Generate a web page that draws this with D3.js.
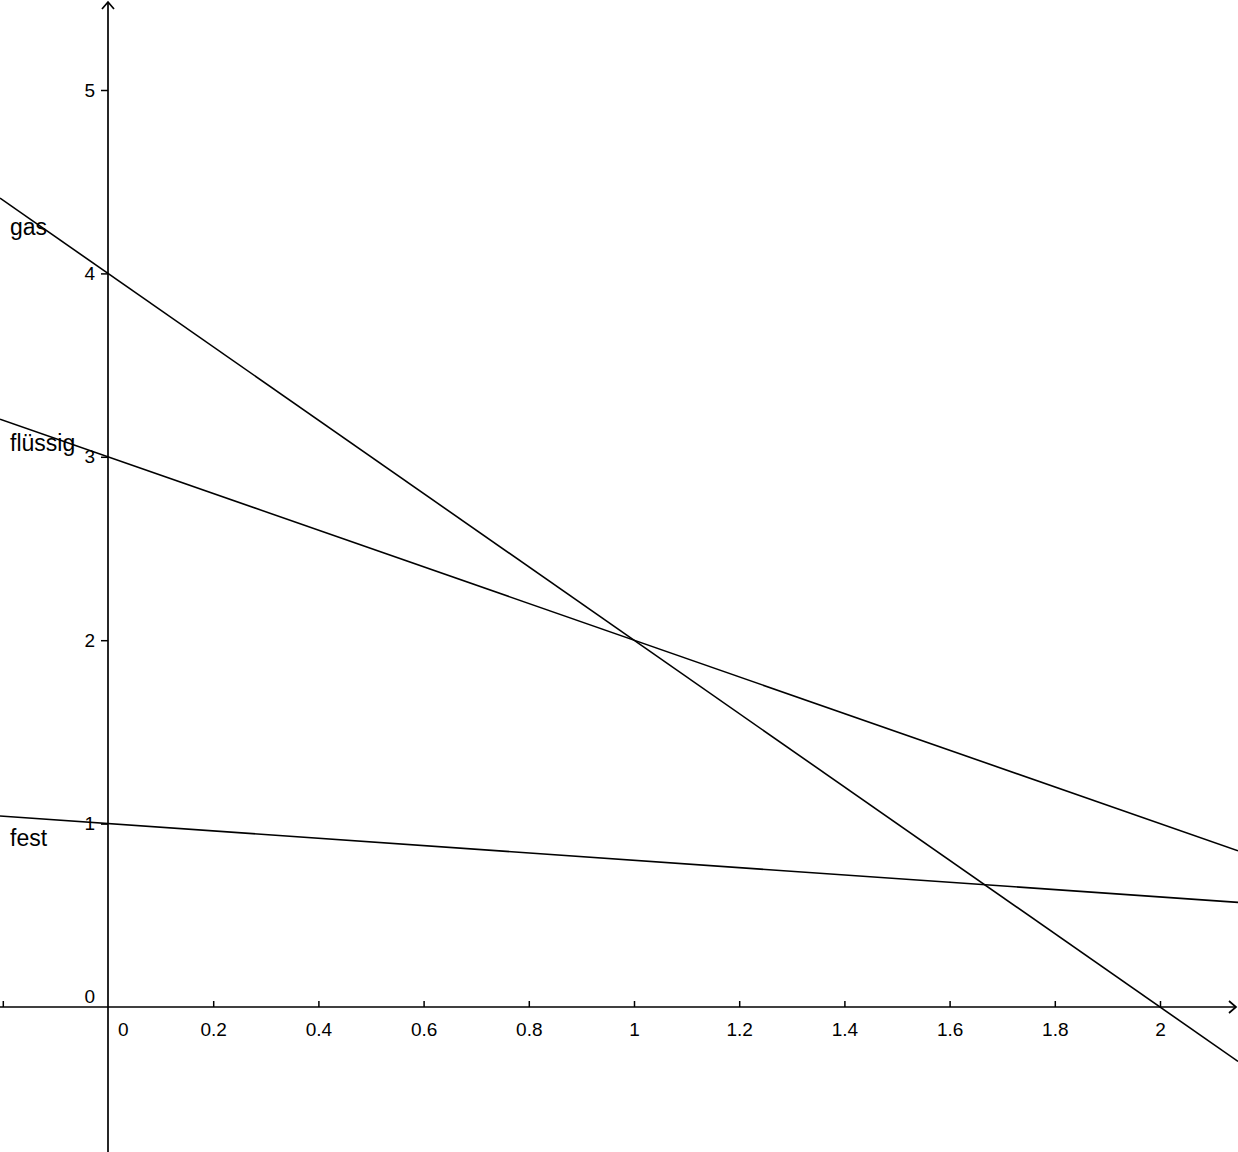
<!DOCTYPE html>
<html>
<head>
<meta charset="utf-8">
<script src="https://cdn.jsdelivr.net/npm/d3@7"></script>
<style>
	body { margin: 0; background: #fff; }
	svg { display: block; }
</style>
</head>
<body>
<script>
// phase lines: y = intercept + slope * x
var lineNames = ['gas', 'flüssig', 'fest'];
var lineIntercepts = [4, 3, 1];
var lineSlopes = [-2, -1, -0.2];
// label anchors (data units, bottom-left of text)
var labelYValues = [4.21, 3.03, 0.88];

var xTickValues = [-0.2, 0.2, 0.4, 0.6, 0.8, 1, 1.2, 1.4, 1.6, 1.8, 2];
var yTickValues = [1, 2, 3, 4, 5];

var width = 1238, height = 1152;
var font = '"Liberation Sans", Arial, sans-serif';
var tickFontSize = 19;

var svg = d3.select('body').append('svg')
	.attr('width', width)
	.attr('height', height);

var x = d3.scaleLinear().domain([0, 2]).range([108, 1160]);
var y = d3.scaleLinear().domain([0, 5]).range([1007, 90]);

var xMin = x.invert(0), xMax = x.invert(width);

// phase lines
svg.selectAll('.phase').data(lineNames).enter().append('line')
	.attr('class', 'phase')
	.attr('x1', x(xMin))
	.attr('y1', function (d, i) { return y(lineIntercepts[i] + lineSlopes[i] * xMin); })
	.attr('x2', x(xMax))
	.attr('y2', function (d, i) { return y(lineIntercepts[i] + lineSlopes[i] * xMax); })
	.attr('stroke', '#000')
	.attr('stroke-width', 1.6);

// axes
var xAxis = d3.axisBottom(x)
	.tickValues(xTickValues)
	.tickSizeInner(-6)
	.tickSizeOuter(0)
	.tickFormat(function (d) { return d < 0 ? '' : d3.format('~g')(d); });
var xAxisEl = svg.append('g')
	.attr('transform', 'translate(0,' + y(0) + ')')
	.call(xAxis)
	.attr('font-family', font)
	.attr('font-size', tickFontSize);
xAxisEl.select('.domain').remove();
xAxisEl.selectAll('line').attr('stroke', '#000').attr('stroke-width', 1.5);
xAxisEl.selectAll('text').attr('fill', '#000').attr('dy', null).attr('y', 29);

var yAxis = d3.axisLeft(y)
	.tickValues(yTickValues)
	.tickSizeInner(7)
	.tickSizeOuter(0)
	.tickPadding(6)
	.tickFormat(d3.format('~g'));
var yAxisEl = svg.append('g')
	.attr('transform', 'translate(' + x(0) + ',0)')
	.call(yAxis)
	.attr('font-family', font)
	.attr('font-size', tickFontSize);
yAxisEl.select('.domain').remove();
yAxisEl.selectAll('line').attr('stroke', '#000').attr('stroke-width', 1.5);
yAxisEl.selectAll('text').attr('fill', '#000');

// axis lines with open arrows
svg.append('line')
	.attr('x1', 0).attr('x2', width - 2)
	.attr('y1', y(0)).attr('y2', y(0))
	.attr('stroke', '#000').attr('stroke-width', 1.7);
svg.append('line')
	.attr('x1', x(0)).attr('x2', x(0))
	.attr('y1', height).attr('y2', 2)
	.attr('stroke', '#000').attr('stroke-width', 1.7);
svg.append('path')
	.attr('d', 'M' + (width - 9) + ',' + (y(0) - 6) + 'L' + (width - 2) + ',' + y(0) + 'L' + (width - 9) + ',' + (y(0) + 6))
	.attr('fill', 'none').attr('stroke', '#000').attr('stroke-width', 1.7);
svg.append('path')
	.attr('d', 'M' + (x(0) - 6) + ',9L' + x(0) + ',2L' + (x(0) + 6) + ',9')
	.attr('fill', 'none').attr('stroke', '#000').attr('stroke-width', 1.7);

// origin labels
svg.append('text')
	.attr('font-family', font).attr('font-size', tickFontSize)
	.attr('x', x(0) - 13).attr('y', y(0) - 4)
	.attr('text-anchor', 'end')
	.text('0');
svg.append('text')
	.attr('font-family', font).attr('font-size', tickFontSize)
	.attr('x', x(0) + 10).attr('y', y(0) + 29)
	.text('0');

// line labels
svg.selectAll('.label').data(lineNames).enter().append('text')
	.attr('class', 'label')
	.attr('font-family', font)
	.attr('font-size', 23)
	.attr('x', 10)
	.attr('y', function (d, i) { return y(labelYValues[i]); })
	.text(function (d) { return d; });
</script>
</body>
</html>
